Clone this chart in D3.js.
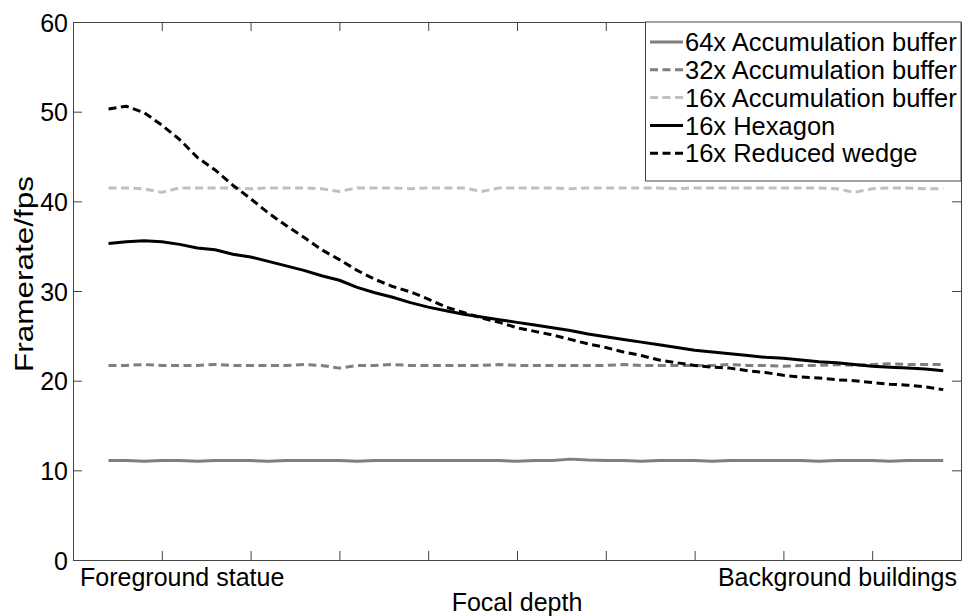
<!DOCTYPE html>
<html>
<head>
<meta charset="utf-8">
<script src="https://cdn.jsdelivr.net/npm/d3@7"></script>
<style>
  body { margin: 0; background: #fff; }
  text { font-family: "Liberation Sans", Arial, sans-serif; fill: #000; }
</style>
</head>
<body>
<div id="chart-area"></div>
<script>
const width = 965, height = 616;
const margin = ({top: 22, right: 3, bottom: 56, left: 73});

// focal depth positions (arbitrary units along the x axis)
const depth = d3.range(48).map(i => +(0.4 + i * 0.2).toFixed(1));

const acc64 = [11.1, 11.1, 11.0, 11.1, 11.1, 11.0, 11.1, 11.1, 11.1, 11.0, 11.1, 11.1,
  11.1, 11.1, 11.0, 11.1, 11.1, 11.1, 11.1, 11.1, 11.1, 11.1, 11.1, 11.0,
  11.1, 11.1, 11.25, 11.15, 11.1, 11.1, 11.0, 11.1, 11.1, 11.1, 11.0, 11.1,
  11.1, 11.1, 11.1, 11.1, 11.0, 11.1, 11.1, 11.1, 11.0, 11.1, 11.1, 11.1];

const acc32 = [21.7, 21.7, 21.8, 21.7, 21.7, 21.7, 21.8, 21.7, 21.7, 21.7, 21.7, 21.8,
  21.7, 21.4, 21.7, 21.7, 21.8, 21.7, 21.7, 21.7, 21.7, 21.7, 21.8, 21.7,
  21.7, 21.7, 21.7, 21.7, 21.7, 21.8, 21.7, 21.7, 21.7, 21.7, 21.7, 21.8,
  21.7, 21.7, 21.6, 21.7, 21.7, 21.8, 21.7, 21.8, 21.9, 21.8, 21.8, 21.8];

const acc16 = [41.5, 41.5, 41.4, 41.0, 41.5, 41.5, 41.5, 41.5, 41.4, 41.5, 41.5, 41.5,
  41.4, 41.1, 41.5, 41.5, 41.5, 41.4, 41.5, 41.5, 41.5, 41.1, 41.5, 41.5,
  41.5, 41.5, 41.4, 41.5, 41.5, 41.5, 41.5, 41.5, 41.4, 41.5, 41.5, 41.5,
  41.5, 41.5, 41.5, 41.5, 41.5, 41.4, 41.0, 41.4, 41.5, 41.5, 41.4, 41.4];

const hexagon = [35.3, 35.5, 35.6, 35.5, 35.2, 34.8, 34.6, 34.1, 33.8, 33.3, 32.8, 32.3,
  31.7, 31.2, 30.4, 29.8, 29.3, 28.7, 28.2, 27.8, 27.4, 27.1, 26.8, 26.5,
  26.2, 25.9, 25.6, 25.2, 24.9, 24.6, 24.3, 24.0, 23.7, 23.4, 23.2, 23.0,
  22.8, 22.6, 22.5, 22.3, 22.1, 22.0, 21.8, 21.6, 21.5, 21.4, 21.3, 21.1];

const wedge = [50.3, 50.6, 49.9, 48.5, 46.9, 44.9, 43.5, 41.8, 40.3, 38.7, 37.3, 36.0,
  34.6, 33.5, 32.3, 31.3, 30.5, 29.9, 29.1, 28.2, 27.6, 27.0, 26.5, 25.9,
  25.5, 25.1, 24.6, 24.1, 23.7, 23.2, 22.8, 22.3, 22.0, 21.7, 21.5, 21.4,
  21.1, 20.9, 20.6, 20.4, 20.3, 20.1, 20.0, 19.8, 19.6, 19.5, 19.3, 19.0];

const seriesNames = ["64x Accumulation buffer", "32x Accumulation buffer",
  "16x Accumulation buffer", "16x Hexagon", "16x Reduced wedge"];
const yTicks = [0, 10, 20, 30, 40, 50, 60];
const xTicks = [1, 2, 3, 4, 5, 6, 7, 8, 9];
const xEndLabels = ["Foreground statue", "Background buildings"];

const series = [
  {name: seriesNames[0], values: acc64, color: "#7f7f7f", dash: null},
  {name: seriesNames[1], values: acc32, color: "#7f7f7f", dash: "8,4.5"},
  {name: seriesNames[2], values: acc16, color: "#c0c0c0", dash: "8,4.5"},
  {name: seriesNames[3], values: hexagon, color: "#000", dash: null},
  {name: seriesNames[4], values: wedge, color: "#000", dash: "8,4.5"}
];

const x = d3.scaleLinear().domain([0, 10]).range([margin.left, width - margin.right - 1]);
const y = d3.scaleLinear().domain([0, 60]).range([height - margin.bottom, margin.top]);

const svg = d3.select("#chart-area").append("svg")
  .attr("width", width)
  .attr("height", height);

const axisColor = "#444";

// axes: MATLAB-style box with inward ticks
const styleAxis = g => g
  .call(g => g.selectAll(".domain").attr("stroke", axisColor))
  .call(g => g.selectAll(".tick line").attr("stroke", axisColor))
  .call(g => g.selectAll("text")
    .attr("font-family", "Liberation Sans, Arial, sans-serif")
    .attr("font-size", 25).attr("fill", "#000"));

svg.append("g")
  .attr("transform", `translate(${x(0)},0)`)
  .call(d3.axisLeft(y).tickValues(yTicks).tickSizeInner(-9).tickSizeOuter(0).tickPadding(5))
  .call(styleAxis)
  .call(g => g.selectAll("text").attr("dy", "0.36em"));

svg.append("g")
  .attr("transform", `translate(${x(10)},0)`)
  .call(d3.axisRight(y).tickValues(yTicks.slice(1, -1)).tickSizeInner(-9).tickSizeOuter(0).tickFormat(""))
  .call(styleAxis);

svg.append("g")
  .attr("transform", `translate(0,${y(0)})`)
  .call(d3.axisBottom(x).tickValues(xTicks).tickSizeInner(-9).tickSizeOuter(0).tickFormat(""))
  .call(styleAxis);

svg.append("g")
  .attr("transform", `translate(0,${y(60)})`)
  .call(d3.axisTop(x).tickValues(xTicks).tickSizeInner(-9).tickSizeOuter(0).tickFormat(""))
  .call(styleAxis);

// x end labels
svg.append("text")
  .attr("x", x(0) + 7).attr("y", y(0) + 26)
  .attr("font-size", 25)
  .text(xEndLabels[0]);

svg.append("text")
  .attr("x", x(10) - 4).attr("y", y(0) + 26)
  .attr("text-anchor", "end")
  .attr("font-size", 25)
  .text(xEndLabels[1]);

// axis titles
svg.append("text")
  .attr("x", (x(0) + x(10)) / 2).attr("y", height - 5)
  .attr("text-anchor", "middle")
  .attr("font-size", 25)
  .text("Focal depth");

// the reference y title is drawn noticeably longer than the other text
svg.append("text")
  .attr("transform", `translate(33,274) rotate(-90) scale(1.26,1)`)
  .attr("text-anchor", "middle")
  .attr("font-size", 25)
  .text("Framerate/fps");

// lines
const line = d3.line()
  .x((d, i) => x(depth[i]))
  .y(d => y(d));

svg.append("g")
  .selectAll("path")
  .data(series)
  .enter().append("path")
  .attr("d", d => line(d.values))
  .attr("fill", "none")
  .attr("stroke", d => d.color)
  .attr("stroke-width", 3)
  .attr("stroke-dasharray", d => d.dash)
  .attr("stroke-linejoin", "round");

// legend
const legend = svg.append("g");
legend.append("rect")
  .attr("x", 645.5).attr("y", y(60))
  .attr("width", x(10) - 645.5).attr("height", 159)
  .attr("fill", "#fff")
  .attr("stroke", axisColor);

const rows = legend.selectAll("g.row")
  .data(series)
  .enter().append("g")
  .attr("class", "row")
  .attr("transform", (d, i) => `translate(650,${42 + i * 27.8})`);

rows.append("line")
  .attr("x1", 0).attr("x2", 33)
  .attr("stroke", d => d.color)
  .attr("stroke-width", 3)
  .attr("stroke-dasharray", d => d.dash);

rows.append("text")
  .attr("x", 35)
  .attr("dy", "0.36em")
  .attr("font-size", 25.5)
  .text(d => d.name);
</script>
</body>
</html>
